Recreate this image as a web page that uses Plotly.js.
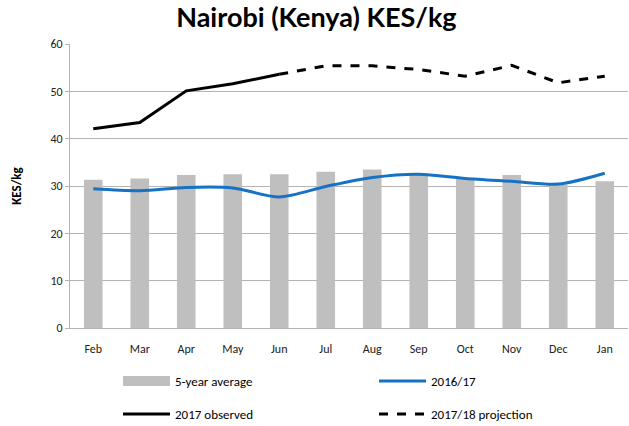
<!DOCTYPE html>
<html>
<head>
<meta charset="utf-8">
<script src="https://cdn.plot.ly/plotly-3.0.1.min.js"></script>
<style>
  html, body { margin: 0; padding: 0; background: #fff; }
  #chart { width: 629px; height: 426px; }
</style>
</head>
<body>
<div id="chart"></div>
<script>
const months = ["Feb", "Mar", "Apr", "May", "Jun", "Jul", "Aug", "Sep", "Oct", "Nov", "Dec", "Jan"];
const fiveYearAvg = [31.3, 31.6, 32.3, 32.5, 32.5, 33.0, 33.5, 32.7, 31.6, 32.3, 30.3, 31.0];
const season1617 = [29.4, 29.0, 29.7, 29.6, 27.7, 29.9, 31.8, 32.5, 31.6, 31.0, 30.4, 32.7];
const observed2017 = [42.1, 43.4, 50.1, 51.6, 53.6, null, null, null, null, null, null, null];
const projection1718 = [null, null, null, null, 53.6, 55.4, 55.4, 54.6, 53.2, 55.5, 51.8, 53.2];

const gray = "#bfbfbf";
const grid = "#b3b3b3";

let traces = [];

// bars (legend entry drawn with a thick line below)
traces.push({
  x: months, y: fiveYearAvg, type: "bar", name: "5-year average",
  marker: { color: gray }, width: 0.4, showlegend: false, hoverinfo: "y"
});
traces.push({
  x: [null], y: [null], type: "scatter", mode: "lines", name: "5-year average",
  line: { color: gray, width: 10 }, legend: "legend"
});
traces.push({
  x: months, y: season1617, type: "scatter", mode: "lines", name: "2016/17",
  line: { color: "#1672c2", width: 3, shape: "spline", smoothing: 0.8 }, legend: "legend"
});
traces.push({
  x: months, y: observed2017, type: "scatter", mode: "lines", name: "2017 observed",
  line: { color: "#000000", width: 3 }, legend: "legend2"
});
traces.push({
  x: months, y: projection1718, type: "scatter", mode: "lines", name: "2017/18 projection",
  line: { color: "#000000", width: 3, dash: "dash" }, legend: "legend2"
});

const legendFont = { family: "Carlito, Lato, 'Liberation Sans', sans-serif", size: 13, color: "#000" };

let layout = {
  width: 629, height: 426,
  margin: { l: 70, r: 1, t: 44, b: 98 },
  paper_bgcolor: "#fff", plot_bgcolor: "#fff",
  title: {
    text: "<b>Nairobi (Kenya) KES/kg</b>",
    font: { family: "Lato, 'Open Sans', sans-serif", size: 27, color: "#000" },
    x: 0.503, xanchor: "center", y: 0.958, yanchor: "middle"
  },
  font: { family: "Carlito, Lato, 'Liberation Sans', sans-serif", size: 12, color: "#000" },
  xaxis: {
    type: "category", showgrid: false, showline: true, linecolor: grid, linewidth: 1,
    ticks: "outside", ticklen: 10, tickcolor: "rgba(0,0,0,0)",
    tickfont: { size: 12, color: "#222" }, fixedrange: true
  },
  yaxis: {
    range: [0, 60], dtick: 10, showgrid: true, gridcolor: grid, gridwidth: 1,
    showline: true, linecolor: grid, ticks: "outside", ticklen: 4, tickcolor: grid,
    zeroline: false, tickfont: { size: 12, color: "#222" },
    title: { text: "<b>KES/kg</b>", font: { size: 13, color: "#000" }, standoff: 25 },
    fixedrange: true
  },
  legend: {
    orientation: "h", xref: "container", yref: "container",
    x: 118 / 629, xanchor: "left", y: 1 - 381 / 426, yanchor: "middle",
    entrywidth: 194, itemwidth: 47, font: legendFont, bgcolor: "rgba(0,0,0,0)"
  },
  legend2: {
    orientation: "h", xref: "container", yref: "container",
    x: 118 / 629, xanchor: "left", y: 1 - 414 / 426, yanchor: "middle",
    entrywidth: 194, itemwidth: 47, font: legendFont, bgcolor: "rgba(0,0,0,0)"
  },
  showlegend: true
};

Plotly.newPlot("chart", traces, layout, { displayModeBar: false, staticPlot: true });
</script>
</body>
</html>
